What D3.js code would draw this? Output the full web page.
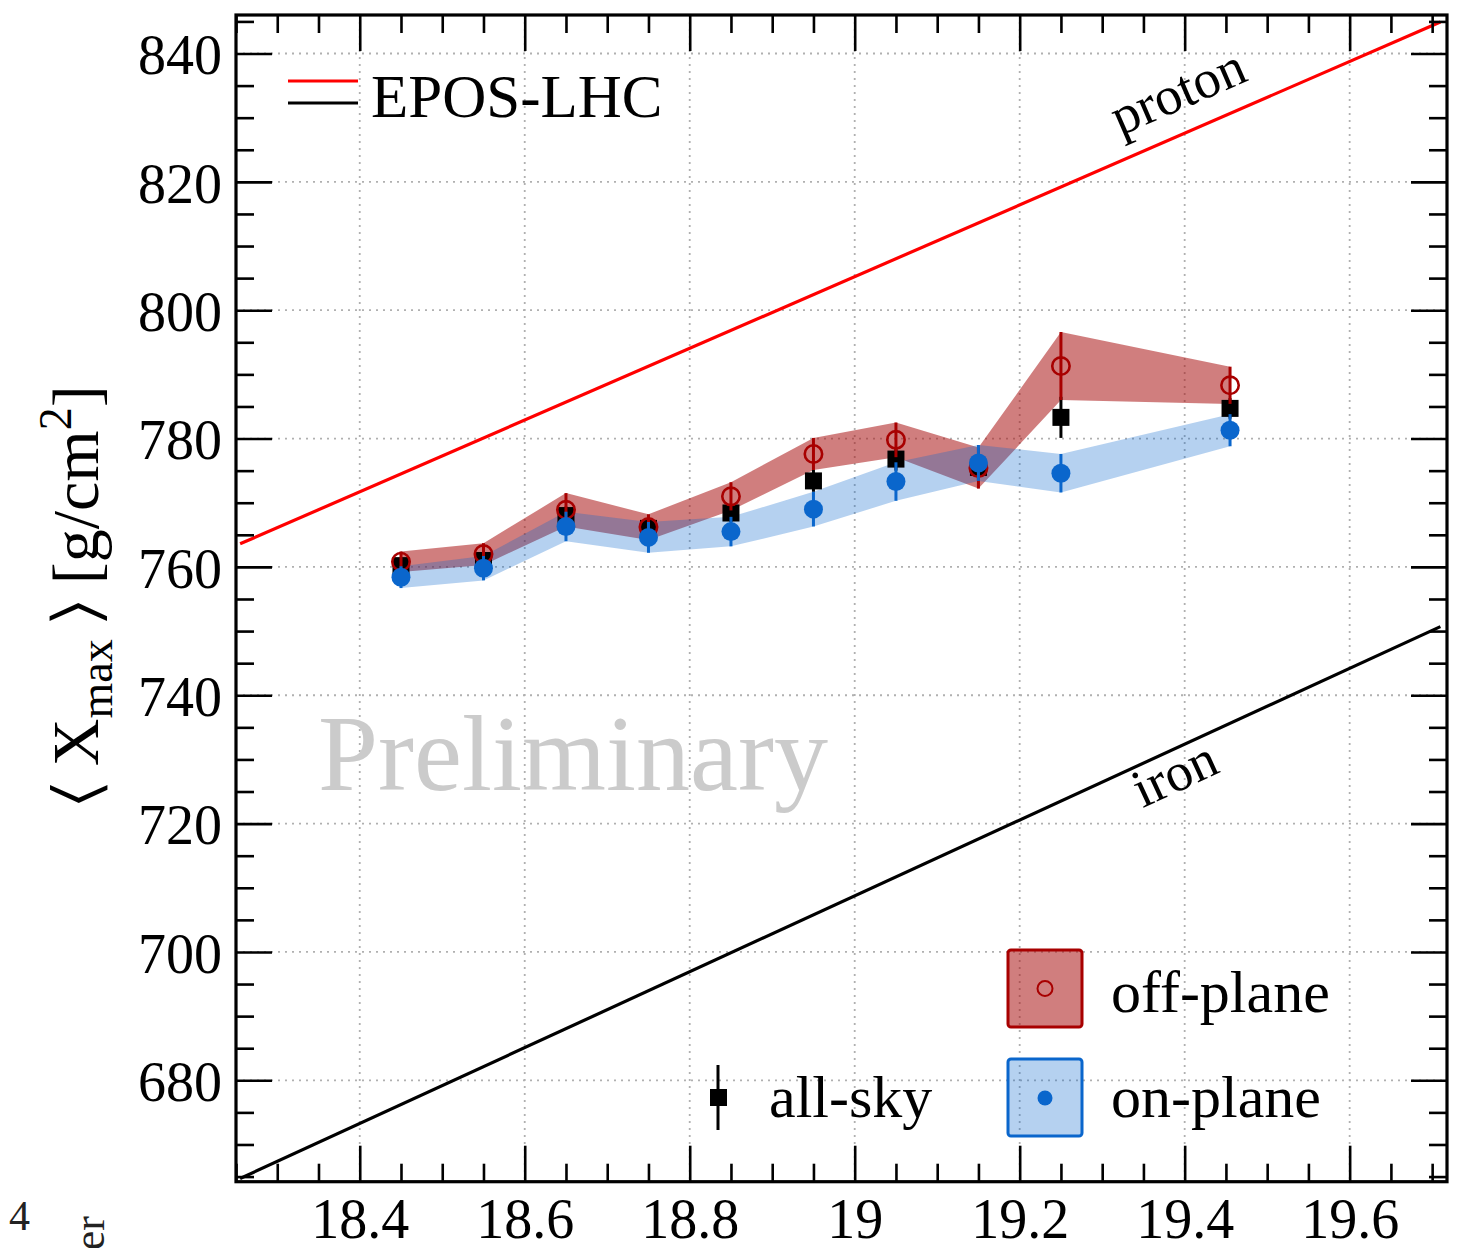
<!DOCTYPE html>
<html>
<head>
<meta charset="utf-8">
<script src="https://cdn.jsdelivr.net/npm/d3@7"></script>
<style>
  html, body { margin: 0; padding: 0; background: #fff; }
  svg { display: block; }
  text { font-family: "Liberation Serif", "DejaVu Serif", serif; }
</style>
</head>
<body>
<svg id="chart" width="1464" height="1248"></svg>
<script>
// Mean depth of shower maximum vs. energy, split by arrival direction
const lgE = [18.45, 18.55, 18.65, 18.75, 18.85, 18.95, 19.05, 19.15, 19.25, 19.455];

const offPlane    = [760.8, 762.0, 768.9, 766.2, 771.0, 777.6, 779.8, 775.4, 791.3, 788.3];
const offPlaneErr = [1.6, 1.7, 2.6, 2.0, 2.2, 2.5, 2.7, 3.2, 5.3, 2.9];

const onPlane     = [758.4, 759.8, 766.3, 764.6, 765.5, 769.0, 773.3, 776.2, 774.6, 781.3];
const onPlaneErr  = [1.7, 1.9, 2.3, 2.4, 2.3, 2.7, 3.0, 2.8, 3.0, 2.5];

const allSky      = [760.2, 761.0, 768.0, 766.0, 768.4, 773.4, 776.8, 775.5, 783.3, 784.7];
const allSkyErr   = [1.0, 1.1, 1.4, 1.3, 1.4, 1.7, 1.8, 1.9, 3.2, 1.6];

// EPOS-LHC predictions
const modelE      = [18.255, 19.71];
const protonXmax  = [763.6, 844.9];
const ironXmax    = [664.7, 750.7];

const xMajorTicks = [18.4, 18.6, 18.8, 19.0, 19.2, 19.4, 19.6];
const xTickLabels = ["18.4", "18.6", "18.8", "19", "19.2", "19.4", "19.6"];
const yMajorTicks = [680, 700, 720, 740, 760, 780, 800, 820, 840];

const plot = { left: 236, right: 1447, top: 15, bottom: 1181.7 };

const svg = d3.select("#chart");

const x = d3.scaleLinear().domain([18.25, 19.718]).range([plot.left, plot.right]);
const y = d3.scaleLinear().domain([664.2, 846]).range([plot.bottom, plot.top]);

const xMinorTicks = d3.range(18.25, 19.7001, 0.05).map(v => +v.toFixed(2))
  .filter(v => !xMajorTicks.some(m => Math.abs(m - v) < 1e-6));
const yMinorTicks = d3.range(665, 846, 5).filter(v => v % 20 !== 0);

const red = "#a80000";
const blue = "#0a66cc";

svg.append("defs").append("clipPath").attr("id", "plotClip")
  .append("rect")
  .attr("x", plot.left).attr("y", plot.top)
  .attr("width", plot.right - plot.left).attr("height", plot.bottom - plot.top);

// dotted grid
const grid = svg.append("g").attr("stroke", "#b0b0b0").attr("stroke-width", 1.8)
  .attr("stroke-dasharray", "2,5");
grid.selectAll(".gx").data(xMajorTicks).join("line")
  .attr("x1", d => x(d)).attr("x2", d => x(d))
  .attr("y1", plot.top).attr("y2", plot.bottom);
grid.selectAll(".gy").data(yMajorTicks).join("line")
  .attr("x1", plot.left).attr("x2", plot.right)
  .attr("y1", d => y(d)).attr("y2", d => y(d));

// "Preliminary" watermark
svg.append("text")
  .attr("x", 318).attr("y", 790)
  .attr("font-size", 108).attr("fill", "#cbcbcb")
  .text("Preliminary");

// model lines
const modelLine = vals => d3.line()
  .x((d, i) => x(modelE[i])).y(d => d)(vals.map(v => y(v)));
const models = svg.append("g").attr("clip-path", "url(#plotClip)").attr("fill", "none");
models.append("path").attr("d", modelLine(protonXmax))
  .attr("stroke", "#ff0000").attr("stroke-width", 3.2);
models.append("path").attr("d", modelLine(ironXmax))
  .attr("stroke", "#000").attr("stroke-width", 3.2);

// model labels, aligned with their lines
const angle = vals => Math.atan2(y(vals[1]) - y(vals[0]), x(modelE[1]) - x(modelE[0])) * 180 / Math.PI;
svg.append("text")
  .attr("transform", `translate(1185,108) rotate(${angle(protonXmax)})`)
  .attr("text-anchor", "middle").attr("font-size", 54).text("proton");
svg.append("text")
  .attr("transform", `translate(1182,790) rotate(${angle(ironXmax)})`)
  .attr("text-anchor", "middle").attr("font-size", 54).text("iron");

// uncertainty bands
const band = (vals, errs) => d3.area()
  .x((d, i) => x(lgE[i]))
  .y0((d, i) => y(vals[i] - errs[i]))
  .y1((d, i) => y(vals[i] + errs[i]))(vals);

svg.append("path").attr("d", band(offPlane, offPlaneErr))
  .attr("fill", "rgb(170,20,20)").attr("fill-opacity", 0.55);
svg.append("path").attr("d", band(onPlane, onPlaneErr))
  .attr("fill", blue).attr("fill-opacity", 0.3);

// error bars + markers
function errorBars(vals, errs, color, width) {
  svg.append("g").selectAll("line").data(vals).join("line")
    .attr("x1", (d, i) => x(lgE[i])).attr("x2", (d, i) => x(lgE[i]))
    .attr("y1", (d, i) => y(d - errs[i])).attr("y2", (d, i) => y(d + errs[i]))
    .attr("stroke", color).attr("stroke-width", width);
}

errorBars(allSky, allSkyErr, "#000", 3);
svg.append("g").selectAll("rect").data(allSky).join("rect")
  .attr("x", (d, i) => x(lgE[i]) - 8.5).attr("y", d => y(d) - 8.5)
  .attr("width", 17).attr("height", 17).attr("fill", "#000");

errorBars(offPlane, offPlaneErr, red, 3);
svg.append("g").selectAll("circle").data(offPlane).join("circle")
  .attr("cx", (d, i) => x(lgE[i])).attr("cy", d => y(d)).attr("r", 8.7)
  .attr("fill", "none").attr("stroke", red).attr("stroke-width", 2.6);

errorBars(onPlane, onPlaneErr, blue, 3);
svg.append("g").selectAll("circle").data(onPlane).join("circle")
  .attr("cx", (d, i) => x(lgE[i])).attr("cy", d => y(d)).attr("r", 9.5)
  .attr("fill", blue);

// axes: inward ticks on all four sides
function styleAxis(g) {
  g.select(".domain").remove();
  g.selectAll(".tick line").attr("stroke", "#000").attr("stroke-width", 2.6);
  g.selectAll("text").attr("font-family", "Liberation Serif, serif").attr("fill", "#000");
}
const bottomAxis = svg.append("g").attr("transform", `translate(0,${plot.bottom})`)
  .call(d3.axisBottom(x).tickValues(xMajorTicks).tickSize(-36).tickPadding(16.5)
    .tickFormat((d, i) => xTickLabels[i]));
bottomAxis.call(styleAxis).selectAll("text").attr("font-size", 56);
svg.append("g").attr("transform", `translate(0,${plot.bottom})`)
  .call(d3.axisBottom(x).tickValues(xMinorTicks).tickSize(-18).tickFormat(""))
  .call(styleAxis);
svg.append("g").attr("transform", `translate(0,${plot.top})`)
  .call(d3.axisTop(x).tickValues(xMajorTicks).tickSize(-36).tickFormat(""))
  .call(styleAxis);
svg.append("g").attr("transform", `translate(0,${plot.top})`)
  .call(d3.axisTop(x).tickValues(xMinorTicks).tickSize(-18).tickFormat(""))
  .call(styleAxis);

const leftAxis = svg.append("g").attr("transform", `translate(${plot.left},0)`)
  .call(d3.axisLeft(y).tickValues(yMajorTicks).tickSize(-36).tickPadding(14).tickFormat(d3.format("d")));
leftAxis.call(styleAxis).selectAll("text").attr("font-size", 56).attr("dy", "0.36em");
svg.append("g").attr("transform", `translate(${plot.left},0)`)
  .call(d3.axisLeft(y).tickValues(yMinorTicks).tickSize(-18).tickFormat(""))
  .call(styleAxis);
svg.append("g").attr("transform", `translate(${plot.right},0)`)
  .call(d3.axisRight(y).tickValues(yMajorTicks).tickSize(-36).tickFormat(""))
  .call(styleAxis);
svg.append("g").attr("transform", `translate(${plot.right},0)`)
  .call(d3.axisRight(y).tickValues(yMinorTicks).tickSize(-18).tickFormat(""))
  .call(styleAxis);

// frame
svg.append("rect")
  .attr("x", plot.left).attr("y", plot.top)
  .attr("width", plot.right - plot.left).attr("height", plot.bottom - plot.top)
  .attr("fill", "none").attr("stroke", "#000").attr("stroke-width", 3.2);

// y-axis title
const yTitle = svg.append("text")
  .attr("transform", "translate(98,595) rotate(-90)")
  .attr("text-anchor", "middle").attr("font-size", 66);
yTitle.append("tspan").text("\u2329 X");
yTitle.append("tspan").attr("font-size", 46).attr("dy", 14).text("max");
yTitle.append("tspan").attr("dy", -14).text(" \u232A [g/cm");
yTitle.append("tspan").attr("font-size", 46).attr("dy", -27).text("2");
yTitle.append("tspan").attr("dy", 27).text("]");

// model legend
svg.append("line").attr("x1", 288).attr("x2", 358).attr("y1", 81).attr("y2", 81)
  .attr("stroke", "#ff0000").attr("stroke-width", 3.2);
svg.append("line").attr("x1", 288).attr("x2", 358).attr("y1", 103).attr("y2", 103)
  .attr("stroke", "#000").attr("stroke-width", 3.2);
svg.append("text").attr("x", 371).attr("y", 117).attr("font-size", 61).text("EPOS-LHC");

// data legend
const leg = svg.append("g");
leg.append("rect").attr("x", 1008).attr("y", 950).attr("width", 74).attr("height", 77).attr("rx", 3)
  .attr("fill", "rgb(170,20,20)").attr("fill-opacity", 0.55)
  .attr("stroke", red).attr("stroke-width", 3);
leg.append("circle").attr("cx", 1045).attr("cy", 988.5).attr("r", 7.5)
  .attr("fill", "none").attr("stroke", red).attr("stroke-width", 2);
leg.append("text").attr("x", 1111).attr("y", 1012).attr("font-size", 60).text("off-plane");

leg.append("rect").attr("x", 1008).attr("y", 1059).attr("width", 74).attr("height", 77).attr("rx", 3)
  .attr("fill", blue).attr("fill-opacity", 0.3)
  .attr("stroke", blue).attr("stroke-width", 3);
leg.append("circle").attr("cx", 1045).attr("cy", 1098).attr("r", 7.5).attr("fill", blue);
leg.append("text").attr("x", 1111).attr("y", 1117).attr("font-size", 60).text("on-plane");

leg.append("line").attr("x1", 718).attr("x2", 718).attr("y1", 1065).attr("y2", 1130)
  .attr("stroke", "#000").attr("stroke-width", 3);
leg.append("rect").attr("x", 710).attr("y", 1089).attr("width", 17).attr("height", 17).attr("fill", "#000");
leg.append("text").attr("x", 769).attr("y", 1117).attr("font-size", 60).text("all-sky");

// surrounding page fragments
svg.append("text").attr("x", 9).attr("y", 1230).attr("font-size", 42).attr("fill", "#222").text("4");
svg.append("text").attr("transform", "translate(104,1216) rotate(-90)")
  .attr("text-anchor", "end").attr("font-size", 44).attr("fill", "#222").text("er");
</script>
</body>
</html>
